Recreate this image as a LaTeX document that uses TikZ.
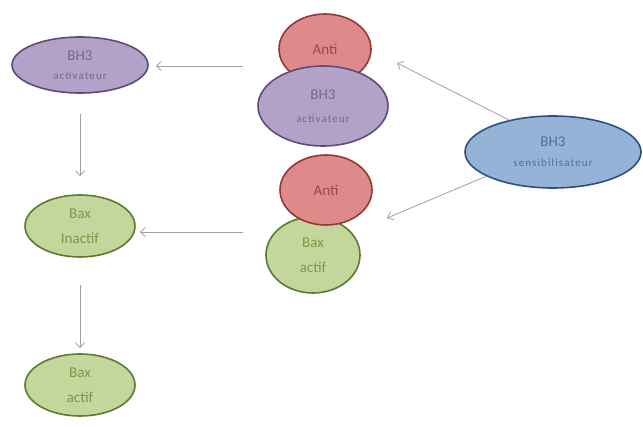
\documentclass[tikz,border=0pt]{standalone}
\usepackage{fontspec}
\setmainfont{Carlito}
\usetikzlibrary{arrows.meta,shapes.geometric}
\definecolor{bhFill}{HTML}{B3A2C7}
\definecolor{bhStroke}{HTML}{5F4A7B}
\definecolor{bhText}{HTML}{7A6596}
\definecolor{antiFill}{HTML}{DE8A8A}
\definecolor{antiStroke}{HTML}{953735}
\definecolor{antiText}{HTML}{A04848}
\definecolor{baxFill}{HTML}{C3D69B}
\definecolor{baxStroke}{HTML}{5E7A2E}
\definecolor{baxText}{HTML}{7C9A48}
\definecolor{sensFill}{HTML}{95B3D7}
\definecolor{sensStroke}{HTML}{2F4F7F}
\definecolor{sensText}{HTML}{4F6F9F}
\definecolor{arrowGray}{HTML}{A0A0A0}
\newfontfamily\subfont[LetterSpace=10]{Carlito}
\newcommand{\subtxt}[1]{{\subfont\fontsize{11}{12}\selectfont #1}}

\begin{document}
\begin{tikzpicture}[x=1pt,y=-1pt,
  >={Straight Barb[length=5pt,width=9pt]},
  bh/.style={ellipse,draw=bhStroke,line width=1.6pt,fill=bhFill,text=bhText,inner sep=0pt,align=center,font=\fontsize{15}{17}\selectfont},
  anti/.style={ellipse,draw=antiStroke,line width=1.6pt,fill=antiFill,text=antiText,inner sep=0pt,align=center,minimum width=92pt,minimum height=70pt,font=\fontsize{15}{17}\selectfont},
  bax/.style={ellipse,draw=baxStroke,line width=1.6pt,fill=baxFill,text=baxText,inner sep=0pt,align=center,font=\fontsize{15}{25}\selectfont},
  sens/.style={ellipse,draw=sensStroke,line width=1.6pt,fill=sensFill,text=sensText,inner sep=0pt,align=center,minimum width=176pt,minimum height=72pt,font=\fontsize{15}{17}\selectfont},
  edge/.style={->,line width=.8pt,draw=arrowGray}
]
\useasboundingbox (0,0) rectangle (643,427);
% left column: free forms; middle column: complexes with anti-apoptotic partners
\node[bh,minimum width=136pt,minimum height=56pt] (bhaL) at (80,65) {BH3\\[2pt]\subtxt{activateur}};
\node[bax,minimum width=110pt,minimum height=62pt] (baxI) at (80,226) {Bax\\Inactif};
\node[bax,minimum width=110pt,minimum height=62pt] (baxA) at (80,385) {Bax\\actif};
\node[anti] (antiA) at (325,49) {Anti};
\node[bh,minimum width=130pt,minimum height=80pt] (bhaM) at (323,106) {BH3\\[6pt]\subtxt{activateur}};
\node[bax,minimum width=94pt,minimum height=76pt] (baxM) at (313,255) {Bax\\actif};
\node[anti] (antiB) at (326,190) {Anti};
\node[sens] (sensi) at (553,152) {BH3\\[3pt]\subtxt{sensibilisateur}};
\coordinate (headA) at (397,63);
\coordinate (headB) at (387,218);
\coordinate (tailA) at (243,66);
\coordinate (tailB) at (243,232);
\draw[edge] (sensi.144) -- (headA);
\draw[edge] (sensi.200) -- (headB);
\draw[edge] (tailA) -- ([xshift=7pt]bhaL.east |- tailA);
\draw[edge] (tailB) -- ([xshift=4pt]baxI.east |- tailB);
\draw[edge,shorten <=20pt,shorten >=18pt] (bhaL.south) -- (baxI.north);
\draw[edge,shorten <=27pt,shorten >=5pt] (baxI.south) -- (baxA.north);
\end{tikzpicture}
\end{document}
